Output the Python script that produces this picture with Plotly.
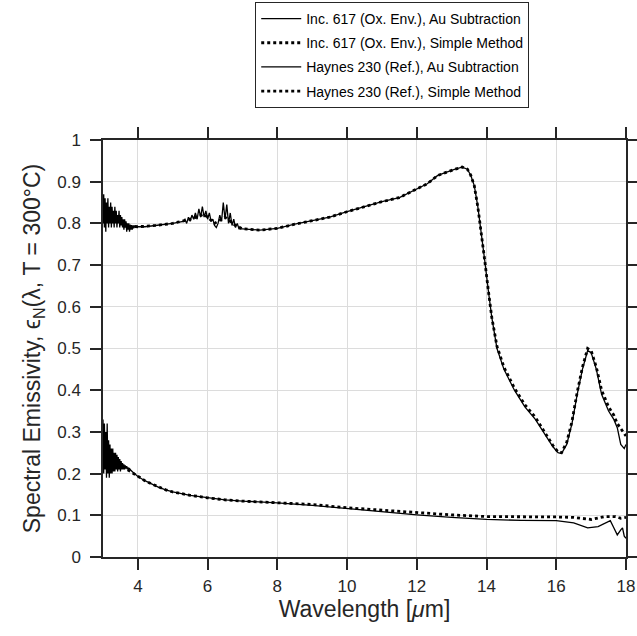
import plotly.graph_objects as go

# ---------------- data ----------------
inc_au_x = [3.00, 3.02, 3.04, 3.06, 3.08, 3.10, 3.12, 3.14, 3.16, 3.18, 3.20, 3.22, 3.24, 3.26, 3.28,
            3.30, 3.32, 3.34, 3.36, 3.38, 3.40, 3.42, 3.44, 3.46, 3.48, 3.50, 3.52, 3.54, 3.56, 3.58,
            3.60, 3.62, 3.64, 3.66, 3.68, 3.70, 3.72, 3.74, 3.76, 3.78, 3.80, 3.82, 3.84, 3.86, 3.88,
            3.90, 3.92, 3.94, 3.96, 3.98, 4.00, 4.20, 4.50, 5.00, 5.30,
            5.35, 5.40, 5.45, 5.50, 5.55, 5.60, 5.65, 5.70, 5.75, 5.80, 5.85, 5.90, 5.95, 6.00, 6.05,
            6.10, 6.15, 6.20, 6.25, 6.30, 6.35, 6.40, 6.45, 6.50, 6.55, 6.60, 6.65, 6.70, 6.75, 6.80,
            6.85, 6.90, 7.00, 7.50, 8.00, 8.50, 9.00, 9.50, 10.0, 10.5, 11.0, 11.5, 12.0, 12.3, 12.6,
            12.9, 13.1, 13.3, 13.45, 13.55, 13.65, 13.75, 13.85, 13.95, 14.05, 14.15, 14.3, 14.5, 14.8,
            15.1, 15.4, 15.7, 15.9, 16.05, 16.15, 16.3, 16.45, 16.6, 16.75, 16.9, 17.0, 17.15, 17.3,
            17.5, 17.65, 17.75, 17.85, 17.95, 18.0]
inc_au_y = [0.80, 0.87, 0.79, 0.86, 0.78, 0.85, 0.80, 0.86, 0.79, 0.84, 0.80, 0.85, 0.79, 0.84, 0.80,
            0.83, 0.79, 0.84, 0.80, 0.83, 0.79, 0.82, 0.80, 0.83, 0.79, 0.82, 0.795, 0.815, 0.79, 0.81,
            0.785, 0.81, 0.79, 0.805, 0.78, 0.80, 0.785, 0.80, 0.78, 0.795, 0.785, 0.795, 0.785, 0.795, 0.788,
            0.795, 0.79, 0.795, 0.79, 0.793, 0.792, 0.792, 0.795, 0.80, 0.805,
            0.81, 0.80, 0.815, 0.805, 0.82, 0.81, 0.825, 0.81, 0.835, 0.815, 0.84, 0.815, 0.83, 0.81, 0.825,
            0.805, 0.81, 0.795, 0.79, 0.80, 0.82, 0.805, 0.85, 0.81, 0.845, 0.80, 0.825, 0.795, 0.81, 0.79,
            0.80, 0.787, 0.787, 0.784, 0.788, 0.798, 0.806, 0.815, 0.828, 0.84, 0.852, 0.862, 0.882, 0.895, 0.915,
            0.925, 0.930, 0.935, 0.930, 0.915, 0.89, 0.84, 0.78, 0.71, 0.64, 0.575, 0.50, 0.45, 0.40,
            0.36, 0.33, 0.29, 0.265, 0.25, 0.248, 0.27, 0.32, 0.39, 0.45, 0.495, 0.49, 0.45, 0.39,
            0.35, 0.33, 0.31, 0.27, 0.26, 0.27]

inc_sm_x = [3.0, 3.2, 3.4, 3.6, 3.8, 4.0, 4.5, 5.0, 5.5, 5.9, 6.2, 6.5, 6.8, 7.0, 7.5, 8.0, 8.5, 9.0,
            9.5, 10.0, 10.5, 11.0, 11.5, 12.0, 12.3, 12.6, 12.9, 13.1, 13.3, 13.45, 13.55, 13.65, 13.75,
            13.85, 13.95, 14.05, 14.15, 14.3, 14.5, 14.8, 15.1, 15.4, 15.7, 15.9, 16.05, 16.15, 16.3,
            16.45, 16.6, 16.75, 16.9, 17.0, 17.15, 17.3, 17.5, 17.65, 17.75, 17.9, 18.0]
inc_sm_y = [0.83, 0.82, 0.81, 0.80, 0.793, 0.792, 0.795, 0.80, 0.81, 0.822, 0.80, 0.815, 0.795, 0.787,
            0.784, 0.788, 0.798, 0.806, 0.815, 0.828, 0.84, 0.852, 0.862, 0.882, 0.895, 0.915, 0.925,
            0.930, 0.935, 0.930, 0.915, 0.89, 0.84, 0.78, 0.71, 0.64, 0.575, 0.505, 0.455, 0.405, 0.365,
            0.335, 0.295, 0.268, 0.252, 0.25, 0.275, 0.325, 0.395, 0.455, 0.50, 0.495, 0.455, 0.40,
            0.36, 0.34, 0.32, 0.30, 0.29]

hay_au_x = [3.00, 3.02, 3.04, 3.06, 3.08, 3.10, 3.12, 3.14, 3.16, 3.18, 3.20, 3.22, 3.24, 3.26, 3.28,
            3.30, 3.32, 3.34, 3.36, 3.38, 3.40, 3.42, 3.44, 3.46, 3.48, 3.50, 3.52, 3.54, 3.56, 3.58,
            3.60, 3.62, 3.64, 3.66, 3.68, 3.70, 3.72, 3.74, 3.76, 3.78, 3.80, 3.85, 3.90, 3.95, 4.0,
            4.2, 4.4, 4.6, 4.8, 5.0, 5.5, 6.0, 6.5, 7.0, 7.5, 8.0, 9.0, 10.0, 11.0, 12.0, 13.0, 14.0,
            15.0, 16.0, 16.5, 16.9, 17.2, 17.55, 17.65, 17.75, 17.85, 17.9, 17.95, 18.0]
hay_au_y = [0.33, 0.20, 0.32, 0.21, 0.30, 0.19, 0.32, 0.20, 0.28, 0.19, 0.27, 0.20, 0.26, 0.20, 0.26,
            0.205, 0.25, 0.205, 0.25, 0.21, 0.245, 0.205, 0.24, 0.21, 0.235, 0.205, 0.23, 0.21, 0.225, 0.21,
            0.222, 0.21, 0.22, 0.212, 0.218, 0.21, 0.215, 0.21, 0.212, 0.208, 0.208, 0.204, 0.200, 0.196, 0.193,
            0.183, 0.175, 0.167, 0.161, 0.156, 0.148, 0.142, 0.137, 0.134, 0.132, 0.130, 0.124, 0.116, 0.108,
            0.101, 0.095, 0.090, 0.088, 0.087, 0.082, 0.070, 0.073, 0.087, 0.070, 0.053, 0.065, 0.070, 0.050,
            0.045]

hay_sm_x = [3.0, 3.3, 3.6, 4.0, 4.2, 4.4, 4.6, 4.8, 5.0, 5.5, 6.0, 6.5, 7.0, 7.5, 8.0, 9.0, 10.0, 11.0,
            12.0, 13.0, 14.0, 15.0, 16.0, 16.5, 17.0, 17.4, 17.7, 17.85, 18.0]
hay_sm_y = [0.25, 0.23, 0.215, 0.193, 0.183, 0.175, 0.167, 0.161, 0.156, 0.148, 0.142, 0.137, 0.134, 0.132,
            0.130, 0.126, 0.118, 0.112, 0.106, 0.101, 0.097, 0.097, 0.096, 0.095, 0.090, 0.097, 0.097,
            0.093, 0.095]

names = ["Inc. 617 (Ox. Env.), Au Subtraction", "Inc. 617 (Ox. Env.), Simple Method",
         "Haynes 230 (Ref.), Au Subtraction", "Haynes 230 (Ref.), Simple Method"]
x_ticks = [4, 6, 8, 10, 12, 14, 16, 18]
y_ticks = [0, 0.1, 0.2, 0.3, 0.4, 0.5, 0.6, 0.7, 0.8, 0.9, 1]
y_tick_text = ["0", "0.1", "0.2", "0.3", "0.4", "0.5", "0.6", "0.7", "0.8", "0.9", "1"]

# ---------------- figure ----------------
FONT = "Liberation Sans, Arial, Helvetica, sans-serif"
INK = "#262626"
fig = go.Figure()
solid = dict(color="black", width=1.3)
dotted = dict(color="black", width=2.8, dash="dot")
fig.add_trace(go.Scatter(x=inc_au_x, y=inc_au_y, mode="lines", line=solid, name=names[0], legendgroup="a"))
fig.add_trace(go.Scatter(x=inc_sm_x, y=inc_sm_y, mode="lines", line=dotted, name=names[1], legendgroup="b"))
fig.add_trace(go.Scatter(x=hay_au_x, y=hay_au_y, mode="lines", line=solid, name=names[2], legendgroup="c"))
fig.add_trace(go.Scatter(x=hay_sm_x, y=hay_sm_y, mode="lines", line=dotted, name=names[3], legendgroup="d"))

axis_common = dict(
    showline=True, linecolor=INK, linewidth=1.5, mirror="ticks",
    ticks="outside", ticklen=11, tickwidth=1.5, tickcolor=INK,
    showgrid=True, gridcolor="#dcdcdc", gridwidth=1, zeroline=False,
    tickfont=dict(family=FONT, size=17, color=INK),
)
fig.update_xaxes(range=[3, 18], tickvals=x_ticks, ticktext=[str(t) for t in x_ticks],
                 ticklabelstandoff=2,
                 title=dict(text="Wavelength [<i>μ</i>m]", font=dict(family=FONT, size=23, color=INK),
                            standoff=2),
                 **axis_common)
fig.update_yaxes(range=[0, 1], tickvals=y_ticks, ticktext=y_tick_text,
                 ticklabelstandoff=6,
                 title=dict(text="Spectral Emissivity, ϵ<sub>N</sub>(λ, T = 300°C)",
                            font=dict(family=FONT, size=23, color=INK), standoff=10),
                 **axis_common)
fig.update_layout(
    width=637, height=636,
    margin=dict(l=103, r=11, t=140, b=79, autoexpand=False),
    plot_bgcolor="white", paper_bgcolor="white",
    font=dict(family=FONT, color="black"),
    showlegend=True,
    legend=dict(x=0.553, y=1.331, xanchor="center", yanchor="top",
                bgcolor="white", bordercolor=INK, borderwidth=1,
                font=dict(family=FONT, size=14, color="black"),
                tracegroupgap=3, itemwidth=40, traceorder="grouped"),
)
fig.write_html("out.html")
